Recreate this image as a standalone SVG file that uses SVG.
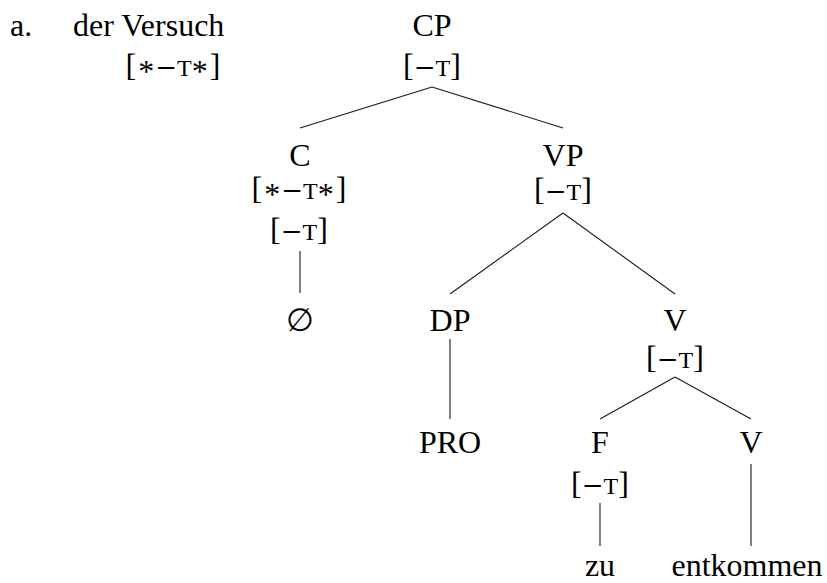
<svg xmlns="http://www.w3.org/2000/svg" width="827" height="583" viewBox="0 0 827 583">
<style>
  text { font-family: "Liberation Serif", "Times New Roman", serif; font-size: 32px; fill: #000; }
  .c { text-anchor: middle; }
  .sc { font-size: 24px; }
  .m { font-family: "DejaVu Serif", serif; font-size: 26px; }
  .edge { stroke: #1a1a1a; stroke-width: 1.1; fill: none; }
</style>
<rect width="827" height="583" fill="#fff"/>
<g id="label-a">
  <text x="10" y="36">a.</text>
  <text x="73" y="36">der Versuch</text>
  <text class="c" x="173" y="76">[<tspan dx="2" dy="6">*</tspan><tspan class="m" dx="1" dy="-6">−</tspan><tspan class="sc">T</tspan><tspan dy="6">*</tspan><tspan dx="2" dy="-6">]</tspan></text>
</g>
<g id="node-CP">
  <text class="c" x="432" y="36">CP</text>
  <text class="c" x="432" y="76">[<tspan class="m">−</tspan><tspan class="sc">T</tspan>]</text>
</g>
<g id="node-C">
  <text class="c" x="300" y="166">C</text>
  <text class="c" x="299" y="199">[<tspan dx="2" dy="6">*</tspan><tspan class="m" dx="1" dy="-6">−</tspan><tspan class="sc">T</tspan><tspan dy="6">*</tspan><tspan dx="2" dy="-6">]</tspan></text>
  <text class="c" x="299" y="240">[<tspan class="m">−</tspan><tspan class="sc">T</tspan>]</text>
</g>
<g id="node-empty">
  <text class="c" x="300" y="331">∅</text>
</g>
<g id="node-VP">
  <text class="c" x="563" y="166">VP</text>
  <text class="c" x="563" y="200">[<tspan class="m">−</tspan><tspan class="sc">T</tspan>]</text>
</g>
<g id="node-DP">
  <text class="c" x="450" y="331">DP</text>
</g>
<g id="node-PRO">
  <text class="c" x="450" y="453">PRO</text>
</g>
<g id="node-V1">
  <text class="c" x="675" y="331">V</text>
  <text class="c" x="675" y="368">[<tspan class="m">−</tspan><tspan class="sc">T</tspan>]</text>
</g>
<g id="node-F">
  <text class="c" x="600" y="453">F</text>
  <text class="c" x="600" y="494">[<tspan class="m">−</tspan><tspan class="sc">T</tspan>]</text>
</g>
<g id="node-V2">
  <text class="c" x="751" y="453">V</text>
</g>
<g id="node-zu">
  <text class="c" x="600" y="576">zu</text>
</g>
<g id="node-entkommen">
  <text class="c" x="747" y="576">entkommen</text>
</g>
<g id="connectors">
  <line class="edge" x1="432" y1="87" x2="300" y2="128"/>
  <line class="edge" x1="432" y1="87" x2="563" y2="128"/>
  <line class="edge" x1="300" y1="251" x2="300" y2="293"/>
  <line class="edge" x1="563" y1="213" x2="450" y2="294"/>
  <line class="edge" x1="563" y1="213" x2="675" y2="294"/>
  <line class="edge" x1="450" y1="339" x2="450" y2="419"/>
  <line class="edge" x1="675" y1="377" x2="600" y2="419"/>
  <line class="edge" x1="675" y1="377" x2="751" y2="419"/>
  <line class="edge" x1="600" y1="503" x2="600" y2="546"/>
  <line class="edge" x1="751" y1="464" x2="751" y2="546"/>
</g>
</svg>
